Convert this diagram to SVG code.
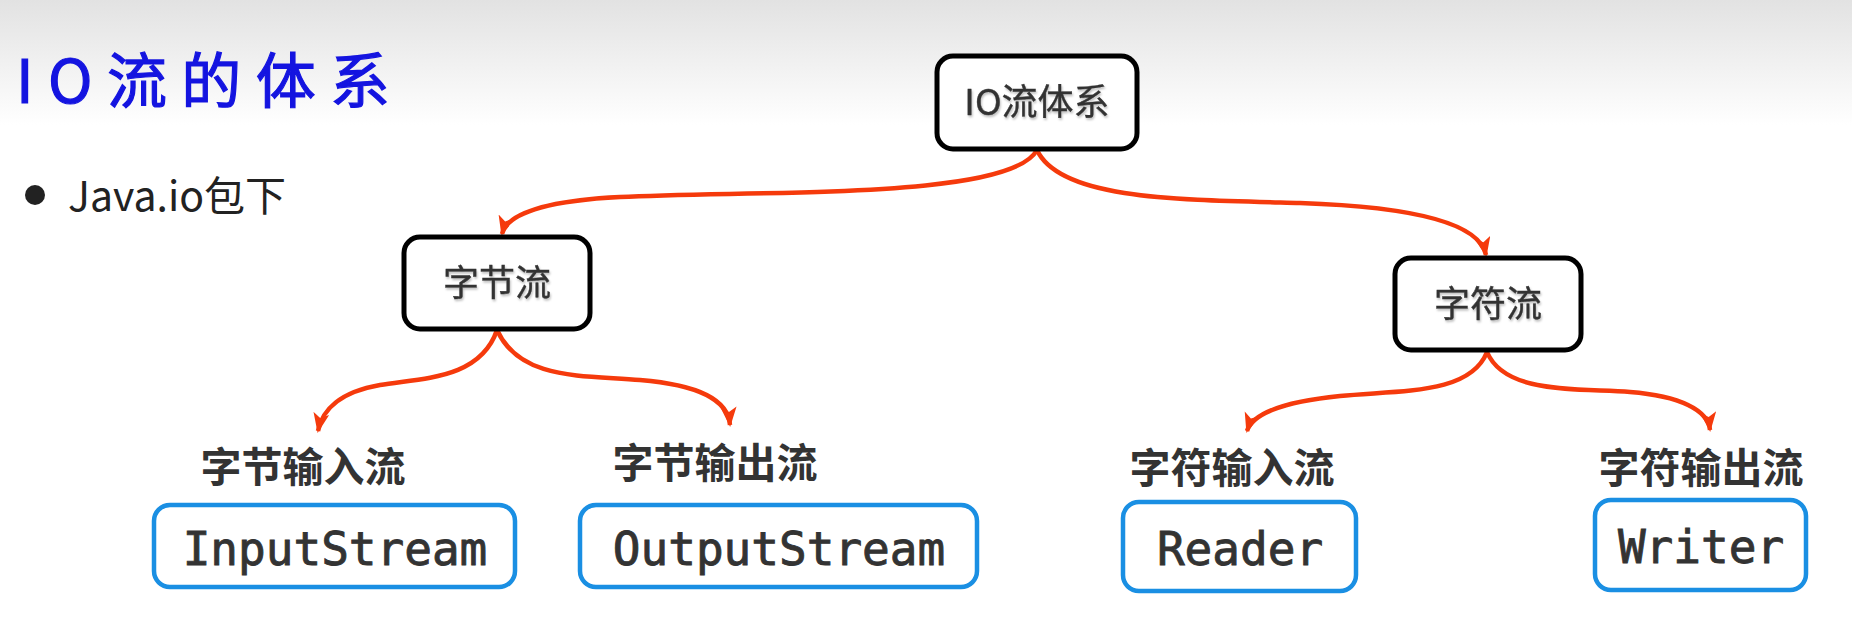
<svg xmlns="http://www.w3.org/2000/svg" width="1852" height="618" viewBox="0 0 1852 618">
<defs>
<linearGradient id="bg" x1="0" y1="0" x2="0" y2="1">
<stop offset="0" stop-color="#e2e2e2"/>
<stop offset="1" stop-color="#ffffff"/>
</linearGradient>
<marker id="arr" markerUnits="userSpaceOnUse" markerWidth="22" markerHeight="18" refX="18" refY="8" orient="auto">
<path d="M0,0 L20,8 L0,16 L5,8 z" fill="#f53a0c"/>
</marker>
<filter id="sh" x="-10%" y="-10%" width="130%" height="140%">
<feDropShadow dx="1" dy="2" stdDeviation="1.2" flood-color="#000" flood-opacity="0.25"/>
</filter>
</defs>
<style>
.top{fill:#fff;stroke:#000;stroke-width:5}
.leaf{fill:#fff;stroke:#1a8fe3;stroke-width:4.5}
.nt{font-family:"Noto Sans CJK SC","Noto Sans",sans-serif;font-size:36px;fill:#333;stroke:#333;stroke-width:0.4;text-anchor:middle}
.lab{font-family:"Noto Sans CJK SC","Noto Sans",sans-serif;font-size:41px;font-weight:bold;fill:#333;text-anchor:middle}
.mono{font-family:"DejaVu Sans Mono","Liberation Mono",monospace;font-size:46px;fill:#333;stroke:#333;stroke-width:0.9;text-anchor:middle}
.con{fill:none;stroke:#f53a0c;stroke-width:4.5;marker-end:url(#arr)}
</style>
<rect x="0" y="0" width="1852" height="618" fill="#fff"/>
<rect x="0" y="0" width="1852" height="125" fill="url(#bg)"/>
<g id="title">
<text x="16" y="103" font-family="Noto Sans CJK SC, sans-serif" font-size="60" fill="#1414e0" stroke="#1414e0" stroke-width="1.2" textLength="374" lengthAdjust="spacing">IO流的体系</text>
</g>
<g id="bullet">
<circle cx="35" cy="195" r="10" fill="#222"/>
<text x="68" y="211" font-family="Noto Sans CJK SC, Noto Sans, sans-serif" font-size="41" fill="#222">Java.io包下</text>
</g>
<g id="connectors">
<path class="con" d="M1037,150 C1010,200 760,190 620,197 C560,200 508,210 502,234"/>
<path class="con" d="M1037,150 C1060,200 1180,200 1300,203 C1420,207 1480,225 1486,255"/>
<path class="con" d="M497,330 C480,380 420,378 380,385 C340,392 322,410 318,431"/>
<path class="con" d="M497,330 C520,380 580,375 640,380 C700,385 728,400 730,425"/>
<path class="con" d="M1487,352 C1470,395 1400,390 1340,396 C1280,402 1252,415 1247,431"/>
<path class="con" d="M1487,352 C1505,395 1580,388 1630,392 C1680,396 1708,410 1710,430"/>
</g>
<g id="root">
<rect class="top" x="937" y="56" width="200" height="93" rx="16"/>
<text class="nt" x="1037" y="115" filter="url(#sh)">IO流体系</text>
</g>
<g id="byte">
<rect class="top" x="404" y="237" width="186" height="92" rx="16"/>
<text class="nt" x="497" y="296" filter="url(#sh)">字节流</text>
</g>
<g id="char">
<rect class="top" x="1395" y="258" width="186" height="92" rx="16"/>
<text class="nt" x="1488" y="317" filter="url(#sh)">字符流</text>
</g>
<g id="byteIn">
<text class="lab" x="303" y="482">字节输入流</text>
<rect class="leaf" x="154" y="505" width="361" height="82" rx="16"/>
<text class="mono" x="335" y="565">InputStream</text>
</g>
<g id="byteOut">
<text class="lab" x="715" y="478">字节输出流</text>
<rect class="leaf" x="580" y="505" width="397" height="82" rx="16"/>
<text class="mono" x="779" y="565">OutputStream</text>
</g>
<g id="charIn">
<text class="lab" x="1232" y="483">字符输入流</text>
<rect class="leaf" x="1123" y="502" width="233" height="89" rx="16"/>
<text class="mono" x="1240" y="565">Reader</text>
</g>
<g id="charOut">
<text class="lab" x="1701" y="483">字符输出流</text>
<rect class="leaf" x="1595" y="500" width="211" height="90" rx="16"/>
<text class="mono" x="1701" y="563">Writer</text>
</g>
</svg>
